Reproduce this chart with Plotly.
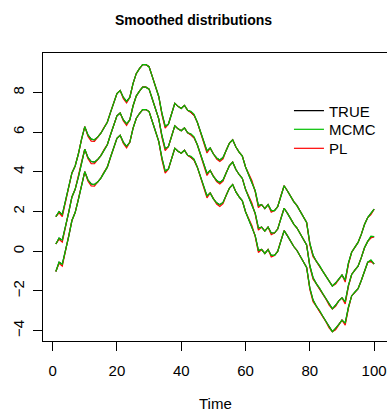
import plotly.graph_objects as go

TIME = list(range(1, 101))

TRUE_UPPER = [1.75, 2.00, 1.85, 2.50, 3.20, 3.95, 4.30, 4.90, 5.65, 6.28,
              5.85, 5.65, 5.62, 5.75, 5.95, 6.25, 6.50, 7.00, 7.45, 7.95,
              8.10, 7.75, 7.55, 7.75, 8.45, 8.95, 9.20, 9.40, 9.40, 9.30,
              8.80, 8.35, 7.80, 6.95, 6.30, 6.40, 6.90, 7.45, 7.30, 7.20,
              7.35, 7.10, 7.00, 6.85, 6.50, 6.00, 5.50, 5.05, 5.20, 4.90,
              4.70, 4.60, 4.72, 5.10, 5.45, 5.62, 5.25, 5.00, 4.80, 4.25,
              3.85, 3.55, 3.05, 2.30, 2.35, 2.15, 2.35, 2.05, 2.05, 2.25,
              2.80, 3.30, 3.05, 2.75, 2.50, 2.30, 2.00, 1.75, 1.45, 0.40,
              -0.20, -0.50, -0.75, -1.00, -1.25, -1.50, -1.75, -1.60, -1.40, -1.20,
              -1.45, -0.60, -0.05, 0.20, 0.45, 0.85, 1.35, 1.70, 1.90, 2.12]

TRUE_MEDIAN = [0.37, 0.66, 0.56, 1.22, 1.96, 2.74, 3.12, 3.74, 4.51, 5.14,
               4.72, 4.52, 4.49, 4.62, 4.82, 5.12, 5.37, 5.87, 6.32, 6.82,
               6.97, 6.62, 6.42, 6.62, 7.32, 7.82, 8.07, 8.27, 8.27, 8.17,
               7.67, 7.22, 6.67, 5.82, 5.17, 5.27, 5.77, 6.32, 6.17, 6.07,
               6.22, 5.97, 5.87, 5.72, 5.37, 4.87, 4.37, 3.92, 4.07, 3.77,
               3.57, 3.47, 3.59, 3.97, 4.32, 4.49, 4.12, 3.87, 3.67, 3.12,
               2.72, 2.42, 1.92, 1.17, 1.22, 1.02, 1.22, 0.92, 0.92, 1.12,
               1.67, 2.17, 1.92, 1.62, 1.37, 1.17, 0.87, 0.62, 0.32, -0.73,
               -1.33, -1.63, -1.88, -2.13, -2.40, -2.65, -2.90, -2.72, -2.50, -2.35,
               -2.55, -1.72, -1.17, -0.95, -0.75, -0.32, 0.18, 0.50, 0.72, 0.74]

TRUE_LOWER = [-1.02, -0.55, -0.65, 0.02, 0.75, 1.55, 1.95, 2.60, 3.38, 4.01,
              3.59, 3.39, 3.36, 3.49, 3.69, 3.99, 4.24, 4.74, 5.19, 5.69,
              5.84, 5.49, 5.29, 5.49, 6.19, 6.69, 6.94, 7.14, 7.14, 7.04,
              6.54, 6.09, 5.54, 4.69, 4.04, 4.14, 4.64, 5.19, 5.04, 4.94,
              5.09, 4.84, 4.74, 4.59, 4.24, 3.74, 3.24, 2.79, 2.94, 2.64,
              2.44, 2.34, 2.46, 2.84, 3.19, 3.36, 2.99, 2.74, 2.54, 1.99,
              1.59, 1.29, 0.79, 0.04, 0.09, -0.11, 0.09, -0.21, -0.21, -0.01,
              0.54, 1.04, 0.79, 0.49, 0.24, 0.04, -0.26, -0.51, -0.81, -1.86,
              -2.46, -2.76, -3.01, -3.26, -3.55, -3.80, -4.05, -3.90, -3.70, -3.47,
              -3.62, -2.82, -2.25, -2.05, -1.88, -1.47, -0.97, -0.55, -0.47, -0.64]

# small departures of the estimates from the truth
MCMC_SHIFT = [0, 0, 0, 0, 0, 0, 0, 0, 0, 0,
              0, 0, 0, 0, 0, 0, 0, 0, 0, 0,
              0, 0, 0, 0, 0, 0, 0, 0, 0, 0,
              0, 0, 0, 0, 0, 0, 0, 0, 0, 0,
              0, 0, 0.05, 0.05, 0, 0, 0, 0, 0, 0,
              0, 0, 0, 0, 0, 0, 0, 0, 0, 0,
              0, 0, 0, 0, 0, 0, 0, 0, 0, 0,
              0, 0, 0, 0, 0, 0, 0, 0, 0, 0,
              0, 0, 0.04, 0, 0, 0, 0, 0, 0, 0,
              0, 0, 0, 0, 0, 0, 0, 0, 0.04, 0]

PL_SHIFT = [0, -0.06, -0.10, -0.05, 0, 0, 0, 0, 0, 0,
            -0.06, -0.10, -0.08, 0, 0, 0, 0, 0, 0, 0,
            0, -0.06, -0.08, 0, 0, 0, 0, 0, 0, 0,
            0, 0, 0, -0.08, -0.10, 0, 0, 0, 0, 0,
            0, 0, 0, 0, 0, 0, -0.08, -0.10, 0, 0,
            -0.06, -0.08, -0.06, 0, 0, 0, 0, 0, 0, 0,
            0, 0, -0.05, -0.10, 0, 0, 0, -0.08, 0, 0,
            0, 0, 0, 0, 0, 0, 0, 0, 0, -0.06,
            -0.08, 0, 0, 0, 0, -0.06, 0, -0.05, 0, 0,
            -0.10, -0.06, 0, 0, 0, 0, 0, 0, -0.05, 0]

X_TICKS = [0, 20, 40, 60, 80, 100]
Y_TICKS = [-4, -2, 0, 2, 4, 6, 8]

FONT = "Liberation Sans, Arial, Helvetica, sans-serif"


def stacked(a, b, c, shift=None):
    if shift is None:
        shift = [0] * len(a)
    xs, ys = [], []
    for k, arr in enumerate((a, b, c)):
        if k:
            xs.append(None)
            ys.append(None)
        xs.extend(TIME)
        ys.extend([v + s for v, s in zip(arr, shift)])
    return xs, ys


fig = go.Figure()

x, y = stacked(TRUE_UPPER, TRUE_MEDIAN, TRUE_LOWER)
fig.add_trace(go.Scatter(x=x, y=y, mode="lines", name="TRUE", showlegend=True,
                         line=dict(color="#000000", width=1.2),
                         legend="legend"))
x, y = stacked(TRUE_UPPER, TRUE_MEDIAN, TRUE_LOWER, PL_SHIFT)
fig.add_trace(go.Scatter(x=x, y=y, mode="lines", name="PL", showlegend=True,
                         line=dict(color="#FF0000", width=1.2),
                         legend="legend3"))
x, y = stacked(TRUE_UPPER, TRUE_MEDIAN, TRUE_LOWER, MCMC_SHIFT)
fig.add_trace(go.Scatter(x=x, y=y, mode="lines", name="MCMC", showlegend=True,
                         line=dict(color="#00C000", width=1.2),
                         legend="legend2"))

leg_common = dict(x=0.715, xanchor="left", yanchor="top",
                  bgcolor="rgba(0,0,0,0)", borderwidth=0,
                  font=dict(family=FONT, size=15, color="#000000"),
                  itemwidth=30, visible=True)

axis_common = dict(showgrid=False, zeroline=False, showline=True,
                   linecolor="#000000", linewidth=1, mirror=True,
                   ticks="outside", ticklen=9, tickwidth=1,
                   tickcolor="#000000",
                   tickfont=dict(family=FONT, size=15, color="#000000"))

fig.update_layout(
    width=387, height=413,
    showlegend=True,
    margin=dict(l=43, r=0, t=53, b=72),
    paper_bgcolor="#FFFFFF", plot_bgcolor="#FFFFFF",
    title=dict(text="<b>Smoothed distributions</b>", x=0.5, xref="container",
               xanchor="center", y=1 - 20 / 413, yref="container",
               yanchor="middle",
               font=dict(family=FONT, size=14, color="#000000")),
    xaxis=dict(range=[-3.0, 104.0], tickvals=X_TICKS,
               ticktext=[str(v) for v in X_TICKS], ticklabelstandoff=7,
               **axis_common),
    yaxis=dict(range=[-4.52, 9.99], tickvals=Y_TICKS,
               ticktext=[("\u2212" + str(-v)) if v < 0 else str(v) for v in Y_TICKS],
               tickangle=-90, ticklabelstandoff=3, **axis_common),
    legend=dict(y=0.856, **leg_common),
    legend2=dict(y=0.7915, **leg_common),
    legend3=dict(y=0.7255, **leg_common),
    annotations=[dict(text="Time", x=0.5, xref="paper", y=-0.217, yref="paper",
                      xanchor="center", yanchor="middle", showarrow=False,
                      font=dict(family=FONT, size=15, color="#000000"))],
)

fig.write_html("out.html")
